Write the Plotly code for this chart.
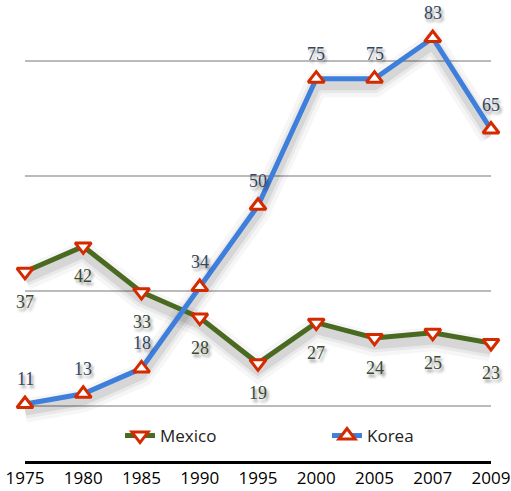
import plotly.graph_objects as go

# Survey years (categorical axis) and the two country series
years = ["1975", "1980", "1985", "1990", "1995", "2000", "2005", "2007", "2009"]
mexico = [37, 42, 33, 28, 19, 27, 24, 25, 23]
korea = [11, 13, 18, 34, 50, 75, 75, 83, 65]

GREEN = "#4a6a22"
BLUE = "#3f7fdc"
RED = "#d42a00"
SERIF = "Liberation Serif, DejaVu Serif, serif"
SANS = "Open Sans, sans-serif"

fig = go.Figure()

# Soft drop shadows under the lines (a few stacked translucent strokes, shifted down)
for vals in (mexico, korea):
    shifted = [v - 1.3 for v in vals]
    for w, a in ((24, 0.035), (16, 0.05), (10, 0.08)):
        fig.add_trace(go.Scatter(
            x=years, y=shifted, mode="lines", showlegend=False, hoverinfo="skip",
            line=dict(color=f"rgba(0,0,0,{a})", width=w), cliponaxis=False,
        ))

fig.add_trace(go.Scatter(
    x=years, y=mexico, name="Mexico", mode="lines+markers", cliponaxis=False,
    legend="legend",
    line=dict(color=GREEN, width=5),
    marker=dict(symbol="triangle-down", size=14, color="white",
                line=dict(color=RED, width=3)),
))
fig.add_trace(go.Scatter(
    x=years, y=korea, name="Korea", mode="lines+markers", cliponaxis=False,
    legend="legend2",
    line=dict(color=BLUE, width=5),
    marker=dict(symbol="triangle-up", size=14, color="white",
                line=dict(color=RED, width=3)),
))

# Value labels: Mexico below its markers, Korea above (x given as category index)
shadow = "2px 3px 3px rgba(0,0,0,0.45)"
for i, v in enumerate(mexico):
    fig.add_annotation(x=i, y=v, text=str(v), showarrow=False, yshift=-30,
                       font=dict(family=SERIF, size=18, color="#3a4a30", shadow=shadow))
for i, v in enumerate(korea):
    fig.add_annotation(x=i, y=v, text=str(v), showarrow=False, yshift=25,
                       font=dict(family=SERIF, size=18, color="#34455e", shadow=shadow))

legend_style = dict(xanchor="left", yanchor="middle", y=(461 - 436) / 461,
                    font=dict(family=SANS, size=17, color="#222222"),
                    bgcolor="rgba(0,0,0,0)")
fig.update_layout(
    width=511, height=491,
    margin=dict(l=25, r=20, t=0, b=30),
    paper_bgcolor="white", plot_bgcolor="white",
    showlegend=True,
    legend=dict(x=(120 - 25) / 466, **legend_style),
    legend2=dict(x=(327 - 25) / 466, **legend_style),
    xaxis=dict(type="category", range=[0, 8], showgrid=False, zeroline=False,
               showline=True, linecolor="black", linewidth=3, ticks="",
               tickfont=dict(family=SANS, size=17, color="black")),
    yaxis=dict(range=[-0.22, 90.48], tickvals=[10.6, 33.2, 55.9, 78.5],
               showticklabels=False, showgrid=True, gridcolor="#bbbbbb",
               gridwidth=1.5, zeroline=False, showline=False, ticks=""),
)

fig.write_html("out.html")
